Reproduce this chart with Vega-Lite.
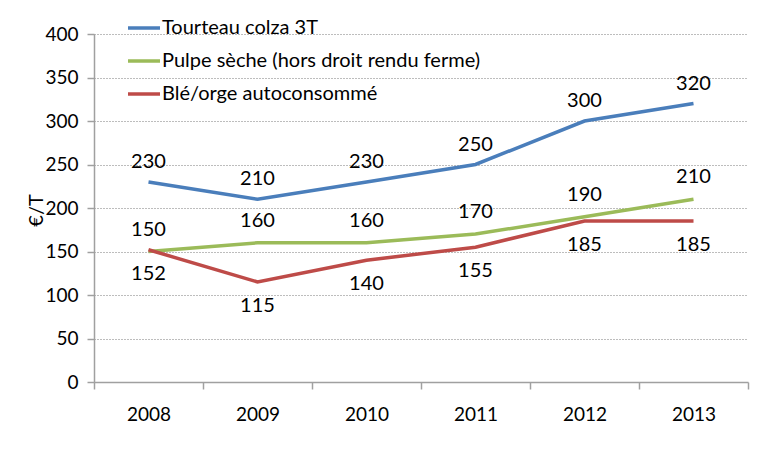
{
  "$schema": "https://vega.github.io/schema/vega-lite/v6.json",
  "width": 654,
  "height": 348,
  "autosize": {"type": "none"},
  "padding": {"left": 94, "top": 34, "right": 15, "bottom": 71},
  "background": "white",
  "data": {
    "values": [
      {"year": "2008", "series": "Tourteau colza 3T", "value": 230},
      {"year": "2009", "series": "Tourteau colza 3T", "value": 210},
      {"year": "2010", "series": "Tourteau colza 3T", "value": 230},
      {"year": "2011", "series": "Tourteau colza 3T", "value": 250},
      {"year": "2012", "series": "Tourteau colza 3T", "value": 300},
      {"year": "2013", "series": "Tourteau colza 3T", "value": 320},
      {"year": "2008", "series": "Pulpe sèche (hors droit rendu ferme)", "value": 150},
      {"year": "2009", "series": "Pulpe sèche (hors droit rendu ferme)", "value": 160},
      {"year": "2010", "series": "Pulpe sèche (hors droit rendu ferme)", "value": 160},
      {"year": "2011", "series": "Pulpe sèche (hors droit rendu ferme)", "value": 170},
      {"year": "2012", "series": "Pulpe sèche (hors droit rendu ferme)", "value": 190},
      {"year": "2013", "series": "Pulpe sèche (hors droit rendu ferme)", "value": 210},
      {"year": "2008", "series": "Blé/orge autoconsommé", "value": 152},
      {"year": "2009", "series": "Blé/orge autoconsommé", "value": 115},
      {"year": "2010", "series": "Blé/orge autoconsommé", "value": 140},
      {"year": "2011", "series": "Blé/orge autoconsommé", "value": 155},
      {"year": "2012", "series": "Blé/orge autoconsommé", "value": 185},
      {"year": "2013", "series": "Blé/orge autoconsommé", "value": 185}
    ]
  },
  "encoding": {
    "x": {
      "field": "year", "type": "ordinal",
      "scale": {"paddingInner": 0, "paddingOuter": 0},
      "axis": {
        "title": null, "labelAngle": 0, "grid": false,
        "tickBand": "extent", "tickSize": 7, "labelPadding": 16,
        "domainColor": "#a0a0a0", "tickColor": "#a0a0a0", "domainWidth": 1.5, "tickWidth": 1.5
      }
    },
    "y": {
      "field": "value", "type": "quantitative",
      "scale": {"domain": [0, 400], "nice": false},
      "axis": {
        "title": "€/T", "values": [0, 50, 100, 150, 200, 250, 300, 350, 400],
        "titleAngle": -90, "titleX": -58, "titleY": 176, "titleAlign": "center", "titleBaseline": "middle",
        "titleFontWeight": "normal", "titleFontSize": 20,
        "tickSize": 7, "labelPadding": 9,
        "domainColor": "#a0a0a0", "tickColor": "#a0a0a0", "domainWidth": 1.5, "tickWidth": 1.5,
        "gridColor": "#7a7a7a", "gridDash": [1, 2], "gridWidth": 1
      }
    }
  },
  "layer": [
    {
      "mark": {"type": "line", "strokeWidth": 3.5},
      "encoding": {
        "color": {
          "field": "series", "type": "nominal",
          "scale": {
            "domain": ["Tourteau colza 3T", "Pulpe sèche (hors droit rendu ferme)", "Blé/orge autoconsommé"],
            "range": ["#4a7ebb", "#9bbb59", "#be4b48"]
          },
          "legend": {
            "title": null, "orient": "none", "legendX": 32, "legendY": -24,
            "symbolType": "stroke", "symbolSize": 1024, "symbolStrokeWidth": 3.5,
            "labelFontSize": 20, "labelOffset": 0, "rowPadding": 5, "labelLimit": 500
          }
        }
      }
    },
    {
      "transform": [{"filter": "datum.series === 'Tourteau colza 3T'"}],
      "mark": {"type": "text", "dy": -20, "fontSize": 20, "color": "black"},
      "encoding": {"text": {"field": "value"}}
    },
    {
      "transform": [{"filter": "datum.series === 'Pulpe sèche (hors droit rendu ferme)'"}],
      "mark": {"type": "text", "dy": -22, "fontSize": 20, "color": "black"},
      "encoding": {"text": {"field": "value"}}
    },
    {
      "transform": [{"filter": "datum.series === 'Blé/orge autoconsommé'"}],
      "mark": {"type": "text", "dy": 24, "fontSize": 20, "color": "black"},
      "encoding": {"text": {"field": "value"}}
    }
  ],
  "config": {
    "font": "Lato",
    "axis": {"labelFontSize": 19, "labelColor": "black", "labelFont": "Lato", "titleFont": "Lato", "titleColor": "black"},
    "legend": {"labelFont": "Lato", "labelColor": "black"},
    "view": {"stroke": null}
  }
}
